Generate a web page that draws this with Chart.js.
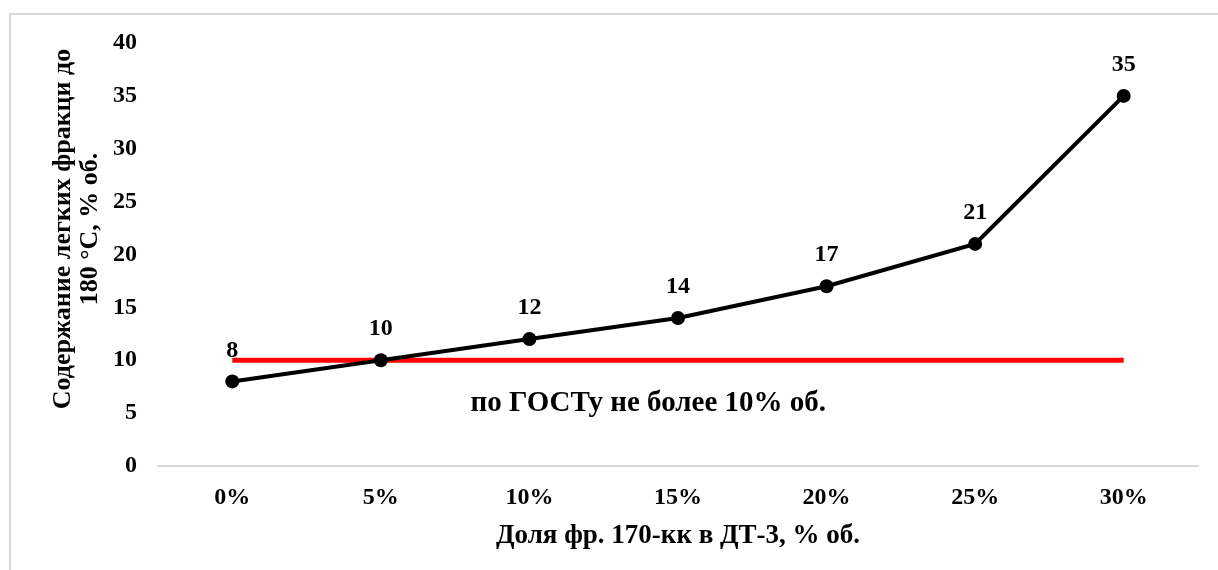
<!DOCTYPE html>
<html>
<head>
<meta charset="utf-8">
<script src="https://cdn.jsdelivr.net/npm/chart.js@4"></script>
<style>
  body { margin: 0; background: #fff; }
  .wrap { position: relative; width: 1218px; height: 570px; overflow: hidden; }
  .frame { position: absolute; left: 9px; top: 13px; width: 1400px; height: 800px; border: 2px solid #d9d9d9; }
  canvas { position: absolute; left: 0; top: 0; }
</style>
</head>
<body>
<div class="wrap">
  <div class="frame"></div>
  <canvas id="myChart1" width="1218" height="570"></canvas>
</div>
<script>
// categories and values
var shares = ['0%', '5%', '10%', '15%', '20%', '25%', '30%'];
var lightFraction = [8, 10, 12, 14, 17, 21, 35];
var gostLimit = [10, 10, 10, 10, 10, 10, 10];
var yTitle = ['Содержание легких фракци до', '180 °С, % об.'];
var xTitle = 'Доля фр. 170-кк в ДТ-3, % об.';
var noteText = 'по ГОСТу не более 10% об.';
var notePos = { x: 2.8, y: 5.95 }; // in axis units

var serif = "'Liberation Serif', 'Times New Roman', serif";

// value labels above black points + the note + y title
var labelsPlugin = {
  id: 'labels',
  afterDatasetsDraw(chart) {
    var ctx = chart.ctx;
    var xs = chart.scales.x, ys = chart.scales.y;
    ctx.save();
    ctx.fillStyle = '#000';
    ctx.font = 'bold 24px ' + serif;
    ctx.textAlign = 'center';
    ctx.textBaseline = 'middle';
    chart.getDatasetMeta(0).data.forEach(function (pt, i) {
      ctx.fillText(String(lightFraction[i]), pt.x, pt.y - 31);
    });

    ctx.font = 'bold 29px ' + serif;
    ctx.fillText(noteText, xs.getPixelForValue(notePos.x), ys.getPixelForValue(notePos.y));

    // y axis title, two lines
    ctx.translate(63, 229);
    ctx.rotate(-Math.PI / 2);
    ctx.font = 'bold 26px ' + serif;
    ctx.fillText(yTitle[0], 0, 0);
    ctx.fillText(yTitle[1], 0, 27);
    ctx.restore();
  }
};

var ctx = document.getElementById('myChart1').getContext('2d');
var myChart = new Chart(ctx, {
  type: 'line',
  data: {
    labels: shares,
    datasets: [{
      data: lightFraction,
      borderColor: '#000',
      backgroundColor: '#000',
      borderWidth: 4,
      pointRadius: 7,
      pointHoverRadius: 7,
      pointBackgroundColor: '#000',
      pointBorderWidth: 0,
      tension: 0,
      order: 0
    }, {
      data: gostLimit,
      borderColor: '#ff0000',
      borderWidth: 5,
      pointRadius: 0,
      borderCapStyle: 'butt',
      tension: 0,
      order: 1
    }]
  },
  options: {
    responsive: false,
    animation: false,
    layout: { padding: { top: 43, right: 20, bottom: 0, left: 0 } },
    plugins: {
      legend: { display: false },
      tooltip: { enabled: false }
    },
    scales: {
      x: {
        offset: true,
        grid: { display: false, drawTicks: false },
        border: { color: '#d9d9d9', width: 2 },
        ticks: { color: '#000', padding: 17, font: { family: serif, size: 24, weight: 'bold' } },
        title: {
          display: true,
          text: xTitle,
          color: '#000',
          padding: { top: 0, bottom: 18 },
          font: { family: serif, size: 27, weight: 'bold' }
        },
        afterFit: function (s) { s.height = 104; }
      },
      y: {
        min: 0,
        max: 40,
        grid: { display: false, drawTicks: false },
        border: { display: false },
        ticks: { stepSize: 5, color: '#000', padding: 21, font: { family: serif, size: 24, weight: 'bold' } },
        afterFit: function (s) { s.width = 158; }
      }
    }
  },
  plugins: [labelsPlugin]
});
</script>
</body>
</html>
